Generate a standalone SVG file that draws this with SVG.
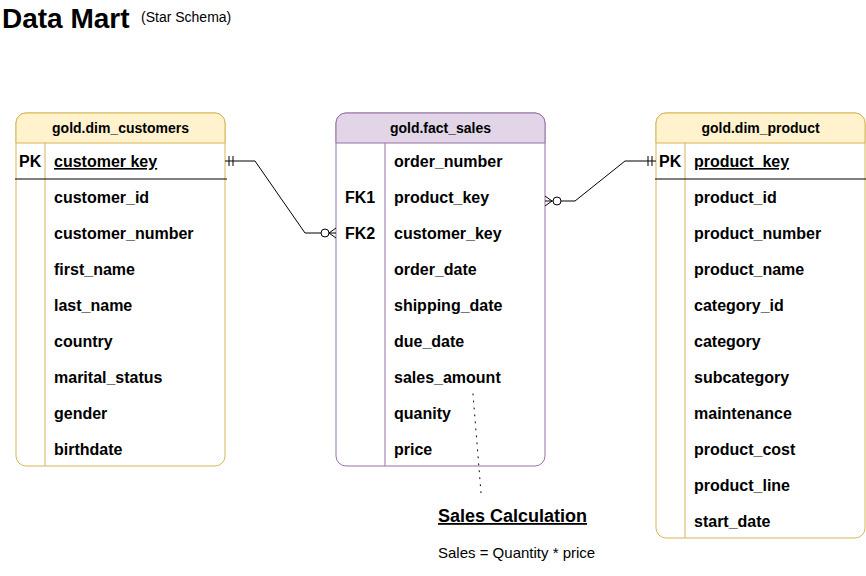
<svg xmlns="http://www.w3.org/2000/svg" width="866" height="576" viewBox="0 0 866 576">
<style>
text{font-family:"Liberation Sans",Arial,sans-serif;fill:#000}
.hdr{font-size:14px;font-weight:bold;text-anchor:middle}
.f{font-size:16px;font-weight:bold}
.ln{fill:none;stroke:#000;stroke-width:1}
.y{fill:#fff;stroke:#d6b656;stroke-width:1}
.yh{fill:#fff2cc;stroke:#d6b656;stroke-width:1}
.p{fill:#fff;stroke:#9673a6;stroke-width:1}
.ph{fill:#e1d5e7;stroke:#9673a6;stroke-width:1}
</style>
<rect width="866" height="576" fill="#fff"/>
<text x="2" y="28" style="font-size:28px;font-weight:bold">Data Mart</text>
<text x="141" y="22" style="font-size:14px">(Star Schema)</text>

<g id="dim_customers">
<rect class="y" x="16" y="113" width="209" height="353" rx="10"/>
<path class="yh" d="M16,143 V123 A10,10 0 0 1 26,113 H215 A10,10 0 0 1 225,123 V143 Z"/>
<line x1="45" y1="143" x2="45" y2="466" stroke="#d6b656"/>
<line x1="15" y1="179" x2="227" y2="179" stroke="#000"/>
<text class="hdr" x="120.5" y="133">gold.dim_customers</text>
<text class="f" x="19" y="167">PK</text>
<text class="f" x="54" y="167" text-decoration="underline">customer key</text>
<text class="f" x="54" y="203">customer_id</text>
<text class="f" x="54" y="239">customer_number</text>
<text class="f" x="54" y="275">first_name</text>
<text class="f" x="54" y="311">last_name</text>
<text class="f" x="54" y="347">country</text>
<text class="f" x="54" y="383">marital_status</text>
<text class="f" x="54" y="419">gender</text>
<text class="f" x="54" y="455">birthdate</text>
</g>

<g id="fact_sales">
<rect class="p" x="336" y="113" width="209" height="353" rx="10"/>
<path class="ph" d="M336,143 V123 A10,10 0 0 1 346,113 H535 A10,10 0 0 1 545,123 V143 Z"/>
<line x1="385" y1="143" x2="385" y2="466" stroke="#9673a6"/>
<text class="hdr" x="440.5" y="133">gold.fact_sales</text>
<text class="f" x="394" y="167">order_number</text>
<text class="f" x="345" y="203">FK1</text>
<text class="f" x="394" y="203">product_key</text>
<text class="f" x="345" y="239">FK2</text>
<text class="f" x="394" y="239">customer_key</text>
<text class="f" x="394" y="275">order_date</text>
<text class="f" x="394" y="311">shipping_date</text>
<text class="f" x="394" y="347">due_date</text>
<text class="f" x="394" y="383">sales_amount</text>
<text class="f" x="394" y="419">quanity</text>
<text class="f" x="394" y="455">price</text>
</g>

<g id="dim_product">
<rect class="y" x="656" y="113" width="209" height="425" rx="10"/>
<path class="yh" d="M656,143 V123 A10,10 0 0 1 666,113 H855 A10,10 0 0 1 865,123 V143 Z"/>
<line x1="685" y1="143" x2="685" y2="538" stroke="#d6b656"/>
<line x1="655" y1="179" x2="866" y2="179" stroke="#000"/>
<text class="hdr" x="760.5" y="133">gold.dim_product</text>
<text class="f" x="659" y="167">PK</text>
<text class="f" x="694" y="167" text-decoration="underline">product_key</text>
<text class="f" x="694" y="203">product_id</text>
<text class="f" x="694" y="239">product_number</text>
<text class="f" x="694" y="275">product_name</text>
<text class="f" x="694" y="311">category_id</text>
<text class="f" x="694" y="347">category</text>
<text class="f" x="694" y="383">subcategory</text>
<text class="f" x="694" y="419">maintenance</text>
<text class="f" x="694" y="455">product_cost</text>
<text class="f" x="694" y="491">product_line</text>
<text class="f" x="694" y="527">start_date</text>
</g>

<g id="connectors">
<path class="ln" d="M225,161 H255 L305,233 H336"/>
<path class="ln" d="M229,156 V166 M233,156 V166"/>
<circle cx="325" cy="233" r="4" fill="#fff" stroke="#000"/>
<path class="ln" d="M336,228 L329,233 L336,238"/>
<path class="ln" d="M545,201 H575 L625,161 H656"/>
<path class="ln" d="M648,156 V166 M652,156 V166"/>
<circle cx="557" cy="201" r="4" fill="#fff" stroke="#000"/>
<path class="ln" d="M545,196 L552,201 L545,206"/>
<path class="ln" d="M473,394 L481,493" stroke-dasharray="1 6" stroke-width="2" stroke-linecap="round"/>
</g>

<g id="sales_calc">
<text x="438" y="522" style="font-size:18px;font-weight:bold" text-decoration="underline">Sales Calculation</text>
<text x="438" y="558" style="font-size:15px">Sales = Quantity * price</text>
</g>
</svg>
